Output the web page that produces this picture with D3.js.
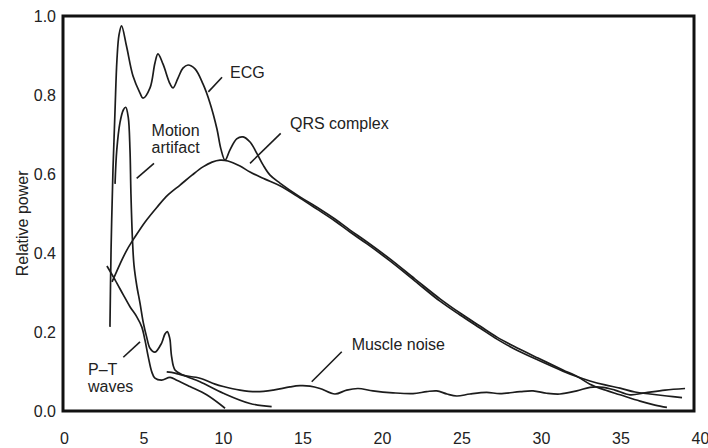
<!DOCTYPE html>
<html>
<head>
<meta charset="utf-8">
<script src="https://cdn.jsdelivr.net/npm/d3@7/dist/d3.min.js"></script>
<style>
  html, body { margin: 0; padding: 0; background: #fff; }
  svg { display: block; }
  text { font-family: "Liberation Sans", Arial, Helvetica, sans-serif; fill: #222; }
</style>
</head>
<body>
<svg id="chart" width="708" height="448"></svg>
<script>
// Relative power spectra (frequency in Hz, relative power 0..1)
const xTicks = [0, 5, 10, 15, 20, 25, 30, 35, 40];
const yTicks = [0, 0.2, 0.4, 0.6, 0.8, 1.0];

const ecg = [
  [2.89, 0.213], [2.96, 0.408], [3.08, 0.610], [3.21, 0.762], [3.33, 0.889],
  [3.46, 0.952], [3.62, 0.975], [3.93, 0.924], [4.34, 0.848], [4.78, 0.805],
  [4.97, 0.792], [5.41, 0.818], [5.72, 0.881], [5.91, 0.904], [6.23, 0.878],
  [6.67, 0.828], [6.86, 0.818], [7.17, 0.843], [7.48, 0.868], [7.80, 0.876],
  [8.24, 0.866], [8.74, 0.828], [9.18, 0.780], [9.62, 0.714], [9.87, 0.663],
  [10.13, 0.635], [10.44, 0.661], [10.86, 0.689], [11.26, 0.694], [11.70, 0.681],
  [12.12, 0.653], [12.52, 0.623], [12.96, 0.597], [13.58, 0.577], [14.84, 0.542],
  [15.91, 0.516], [17.04, 0.486], [17.99, 0.458], [19.06, 0.428], [20.50, 0.385],
  [22.08, 0.334], [23.65, 0.284], [24.91, 0.248], [26.16, 0.215], [27.23, 0.187],
  [28.24, 0.165], [29.81, 0.134], [31.38, 0.104], [32.33, 0.086], [33.08, 0.068],
  [34.03, 0.053], [34.97, 0.041], [36.23, 0.025], [37.17, 0.015], [37.92, 0.009]
];

const qrs = [
  [3.02, 0.327], [3.21, 0.344], [3.52, 0.372], [3.96, 0.408], [4.47, 0.441],
  [5.09, 0.478], [5.85, 0.516], [6.54, 0.547], [7.30, 0.572], [8.05, 0.597],
  [8.74, 0.618], [9.31, 0.630], [9.81, 0.635], [10.31, 0.633], [11.07, 0.620],
  [11.70, 0.605], [12.64, 0.587], [13.58, 0.570], [14.84, 0.539], [15.91, 0.511],
  [17.04, 0.481], [17.99, 0.453], [19.06, 0.423], [20.50, 0.380], [22.08, 0.329],
  [23.65, 0.278], [24.91, 0.243], [26.16, 0.210], [27.23, 0.182], [28.24, 0.159],
  [29.81, 0.129], [31.38, 0.101], [32.33, 0.086], [33.08, 0.076], [34.03, 0.066],
  [34.97, 0.058], [35.91, 0.048], [36.86, 0.043], [37.92, 0.038], [38.87, 0.034]
];

const motion = [
  [3.21, 0.575], [3.32, 0.661], [3.52, 0.730], [3.73, 0.762], [3.88, 0.769],
  [4.04, 0.744], [4.15, 0.661], [4.21, 0.550], [4.31, 0.430], [4.40, 0.370],
  [4.57, 0.319], [4.78, 0.273], [4.99, 0.223], [5.20, 0.187], [5.41, 0.159],
  [5.72, 0.149], [6.14, 0.172], [6.35, 0.195], [6.50, 0.201], [6.60, 0.192],
  [6.67, 0.180], [6.77, 0.137], [6.98, 0.104], [7.50, 0.091], [8.55, 0.074],
  [10.02, 0.045], [11.70, 0.019], [13.06, 0.011]
];

const ptWaves = [
  [2.70, 0.367], [3.21, 0.332], [3.73, 0.294], [4.15, 0.264], [4.57, 0.239],
  [4.89, 0.213], [5.09, 0.180], [5.30, 0.137], [5.52, 0.099], [5.72, 0.083],
  [6.14, 0.078], [6.67, 0.085], [7.09, 0.078], [7.92, 0.062], [8.97, 0.041],
  [10.13, 0.007]
];

const muscle = [
  [6.46, 0.099], [6.98, 0.096], [7.50, 0.090], [8.55, 0.083], [9.50, 0.068],
  [10.02, 0.062], [11.07, 0.053], [12.12, 0.049], [13.16, 0.053], [14.21, 0.061],
  [14.84, 0.064], [15.47, 0.063], [16.10, 0.057], [17.04, 0.043], [17.78, 0.053],
  [18.49, 0.057], [19.43, 0.051], [20.69, 0.046], [21.95, 0.044], [22.81, 0.049],
  [23.44, 0.051], [24.09, 0.043], [24.70, 0.038], [25.53, 0.043], [26.58, 0.047],
  [27.42, 0.044], [28.68, 0.049], [29.50, 0.051], [30.36, 0.045], [31.19, 0.043],
  [32.25, 0.051], [33.08, 0.060], [33.90, 0.060], [34.65, 0.053], [35.60, 0.041],
  [36.54, 0.046], [37.80, 0.053], [39.06, 0.057]
];

const seriesList = [ecg, qrs, motion, ptWaves, muscle];

// Callout labels: text lines with baseline anchor, plus a short leader line (data units)
const callouts = [
  { lines: ["ECG"], x: 10.44, y: 0.843, leader: [[9.94, 0.845], [9.08, 0.808]] },
  { lines: ["Motion", "artifact"], x: 5.51, y: 0.696, leader: [[5.66, 0.627], [4.57, 0.589]] },
  { lines: ["QRS complex"], x: 14.21, y: 0.714, leader: [[13.63, 0.703], [11.70, 0.627]] },
  { lines: ["P\u2013T", "waves"], x: 1.51, y: 0.091, leader: [[4.78, 0.175], [3.73, 0.136]] },
  { lines: ["Muscle noise"], x: 18.09, y: 0.154, leader: [[17.47, 0.150], [15.58, 0.074]] }
];

const svg = d3.select("#chart");
const frame = { left: 63, top: 16, right: 694, bottom: 411 };

const x = d3.scaleLinear().domain([0, 40]).range([64, 700]);
const y = d3.scaleLinear().domain([0, 1]).range([411, 16]);

// Curves
const line = d3.line()
  .x(d => x(d[0]))
  .y(d => y(d[1]))
  .curve(d3.curveCatmullRom.alpha(0.5));

svg.append("g")
  .selectAll("path")
  .data(seriesList)
  .join("path")
  .attr("d", line)
  .attr("fill", "none")
  .attr("stroke", "#1c1c1c")
  .attr("stroke-width", 1.7)
  .attr("stroke-linejoin", "round");

// Plot frame
svg.append("rect")
  .attr("x", frame.left)
  .attr("y", frame.top)
  .attr("width", frame.right - frame.left)
  .attr("height", frame.bottom - frame.top)
  .attr("fill", "none")
  .attr("stroke", "#111")
  .attr("stroke-width", 3);

// Axes (labels only; the frame provides the axis lines)
const xAxis = svg.append("g")
  .attr("transform", `translate(0,${frame.bottom})`)
  .call(d3.axisBottom(x).tickValues(xTicks).tickSize(0).tickPadding(22).tickFormat(d3.format("d")));
xAxis.select(".domain").remove();
xAxis.selectAll("text").attr("font-size", 16).attr("fill", "#222")
  .style("font-family", "'Liberation Sans', Arial, sans-serif");

const yAxis = svg.append("g")
  .attr("transform", `translate(${frame.left},0)`)
  .call(d3.axisLeft(y).tickValues(yTicks).tickSize(0).tickPadding(7).tickFormat(d3.format(".1f")));
yAxis.select(".domain").remove();
yAxis.selectAll("text").attr("font-size", 16).attr("fill", "#222")
  .style("font-family", "'Liberation Sans', Arial, sans-serif");

svg.append("text")
  .attr("transform", `translate(28,${y(0.475)}) rotate(-90)`)
  .attr("text-anchor", "middle")
  .attr("font-size", 16)
  .text("Relative power");

// Callouts
const cg = svg.append("g");
callouts.forEach(c => {
  const t = cg.append("text")
    .attr("x", x(c.x))
    .attr("y", y(c.y))
    .attr("font-size", 16);
  c.lines.forEach((s, i) => {
    t.append("tspan")
      .attr("x", x(c.x))
      .attr("dy", i === 0 ? 0 : 17)
      .text(s);
  });
  cg.append("line")
    .attr("x1", x(c.leader[0][0])).attr("y1", y(c.leader[0][1]))
    .attr("x2", x(c.leader[1][0])).attr("y2", y(c.leader[1][1]))
    .attr("stroke", "#1c1c1c")
    .attr("stroke-width", 1.6);
});
</script>
</body>
</html>
